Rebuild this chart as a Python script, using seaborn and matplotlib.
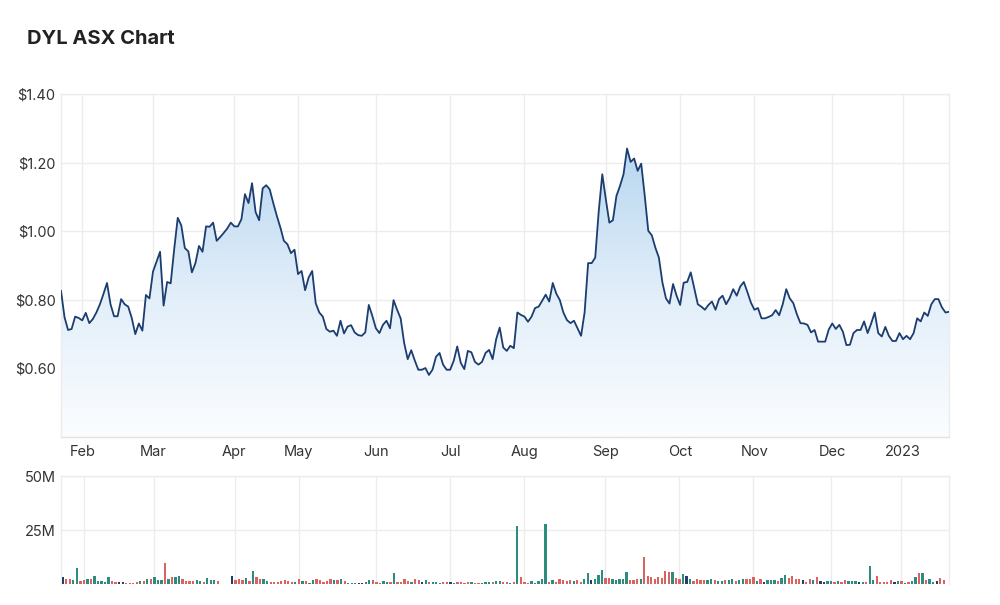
import numpy as np
import pandas as pd
import matplotlib
matplotlib.use("Agg")
import matplotlib.pyplot as plt
import seaborn as sns
from matplotlib.patches import Polygon
from matplotlib.colors import LinearSegmentedColormap

# ASX trading days, 21 Jan 2022 - 20 Jan 2023
asx_holidays = ['2022-01-26', '2022-04-15', '2022-04-18', '2022-04-25', '2022-06-13',
                '2022-09-22', '2022-12-26', '2022-12-27', '2023-01-02']
dates = pd.bdate_range('2022-01-21', '2023-01-20', freq='C', holidays=asx_holidays)

# closing price ($)
close = [
    0.826, 0.749, 0.712, 0.715, 0.751, 0.747, 0.740, 0.762, 0.732, 0.744,
    0.763, 0.787, 0.817, 0.849, 0.787, 0.752, 0.752, 0.802, 0.787, 0.780,
    0.747, 0.700, 0.731, 0.710, 0.814, 0.804, 0.882, 0.911, 0.940, 0.783,
    0.852, 0.848, 0.948, 1.039, 1.017, 0.951, 0.941, 0.880, 0.907, 0.957,
    0.940, 1.014, 1.013, 1.025, 0.972, 0.983, 0.995, 1.008, 1.025, 1.014,
    1.014, 1.035, 1.108, 1.082, 1.140, 1.056, 1.032, 1.125, 1.134, 1.122,
    1.082, 1.045, 1.011, 0.972, 0.962, 0.936, 0.946, 0.875, 0.884, 0.828,
    0.865, 0.884, 0.790, 0.763, 0.751, 0.715, 0.707, 0.710, 0.695, 0.739,
    0.702, 0.722, 0.726, 0.705, 0.697, 0.695, 0.705, 0.785, 0.753, 0.717,
    0.703, 0.727, 0.739, 0.717, 0.799, 0.771, 0.746, 0.674, 0.627, 0.653,
    0.623, 0.596, 0.596, 0.601, 0.581, 0.596, 0.634, 0.645, 0.611, 0.596,
    0.596, 0.622, 0.664, 0.616, 0.598, 0.651, 0.647, 0.619, 0.611, 0.619,
    0.645, 0.654, 0.627, 0.685, 0.719, 0.661, 0.651, 0.666, 0.659, 0.763,
    0.756, 0.751, 0.736, 0.751, 0.776, 0.780, 0.797, 0.815, 0.795, 0.849,
    0.818, 0.799, 0.763, 0.741, 0.732, 0.739, 0.717, 0.695, 0.763, 0.907,
    0.907, 0.923, 1.059, 1.166, 1.093, 1.025, 1.032, 1.103, 1.132, 1.166,
    1.241, 1.202, 1.212, 1.176, 1.197, 1.103, 1.001, 0.988, 0.952, 0.923,
    0.850, 0.804, 0.789, 0.846, 0.812, 0.785, 0.850, 0.852, 0.880, 0.833,
    0.787, 0.780, 0.771, 0.785, 0.795, 0.771, 0.802, 0.812, 0.787, 0.805,
    0.831, 0.812, 0.839, 0.852, 0.823, 0.792, 0.771, 0.776, 0.746, 0.746,
    0.750, 0.755, 0.770, 0.755, 0.787, 0.831, 0.804, 0.790, 0.758, 0.732,
    0.731, 0.727, 0.705, 0.712, 0.678, 0.678, 0.678, 0.713, 0.731, 0.715,
    0.727, 0.707, 0.668, 0.669, 0.703, 0.712, 0.712, 0.737, 0.703, 0.731,
    0.763, 0.703, 0.693, 0.721, 0.695, 0.680, 0.680, 0.703, 0.685, 0.695,
    0.685, 0.703, 0.746, 0.737, 0.763, 0.753, 0.787, 0.802, 0.802, 0.778,
    0.763, 0.765,
]

# daily volume (millions of shares)
volume_m = [
    3.1, 2.3, 2.3, 2.0, 7.4, 1.6, 2.0, 2.3, 2.5, 3.9,
    1.2, 1.6, 1.1, 3.4, 1.6, 1.1, 0.9, 0.9, 0.5, 0.5,
    0.6, 0.9, 1.4, 1.2, 2.5, 2.2, 3.4, 1.7, 2.0, 9.6,
    2.5, 3.1, 3.1, 3.9, 2.3, 1.6, 1.6, 1.6, 2.0, 1.6,
    1.1, 2.9, 1.9, 2.0, 1.6, 0.1, 0.1, 0.1, 3.9, 1.7,
    2.5, 2.0, 2.8, 1.6, 5.9, 3.4, 2.5, 2.3, 1.4, 0.9,
    0.9, 0.9, 1.2, 1.9, 1.2, 0.9, 1.1, 2.3, 1.6, 1.6,
    0.6, 2.0, 2.3, 2.0, 1.1, 1.6, 2.3, 2.0, 2.0, 2.5,
    1.4, 0.5, 0.5, 0.5, 0.5, 0.5, 0.9, 2.0, 1.7, 1.1,
    0.6, 1.4, 0.9, 1.1, 5.0, 1.1, 1.1, 2.5, 1.6, 1.1,
    2.2, 1.9, 0.8, 2.0, 1.1, 1.1, 1.1, 0.5, 1.1, 1.1,
    0.9, 0.5, 0.9, 0.9, 0.5, 0.9, 0.9, 0.5, 0.5, 0.5,
    0.9, 0.9, 0.9, 1.4, 1.6, 0.9, 0.9, 0.5, 0.9, 26.7,
    3.1, 0.9, 0.5, 1.6, 0.5, 1.6, 2.5, 27.6, 0.9, 2.0,
    0.9, 2.5, 2.0, 1.6, 2.0, 1.6, 2.0, 0.9, 2.5, 5.0,
    2.0, 2.5, 4.0, 6.5, 2.9, 2.9, 2.5, 2.0, 2.5, 2.5,
    5.4, 2.0, 2.0, 2.5, 2.5, 12.6, 3.9, 3.1, 2.5, 3.4,
    2.9, 6.0, 5.4, 5.4, 2.9, 2.5, 4.5, 3.6, 2.5, 1.6,
    2.5, 2.0, 2.0, 2.0, 2.5, 2.0, 1.6, 1.6, 2.0, 2.0,
    2.5, 1.6, 2.0, 2.5, 2.5, 2.5, 3.4, 1.6, 2.5, 0.9,
    2.0, 2.0, 2.0, 1.6, 2.9, 4.0, 2.9, 3.6, 2.5, 2.5,
    2.0, 0.9, 2.5, 2.0, 3.1, 1.6, 0.9, 1.6, 1.6, 0.9,
    1.6, 0.9, 2.0, 1.6, 1.6, 1.6, 0.9, 0.9, 0.9, 8.5,
    2.0, 3.6, 0.9, 0.9, 0.9, 2.0, 0.9, 1.6, 1.6, 0.5,
    0.9, 1.6, 3.4, 5.0, 5.0, 2.0, 2.5, 0.9, 1.6, 2.9,
    2.0, 0.2,
]

# bar colour code per day: g = up, r = down, n = unchanged
direction = list(
    "nrrggrrgrg" "ggggrrnnrr" "rrgrgrgggr" "grggrrrrgg" "rgggrnnnnr"
    "rrgrgrrggr" "rrrrrrgrgr" "ggrrrrrgrg" "rgggnnggrr" "rggrgrrrrg"
    "rrngrgggrr" "ngrrrrgrrg" "ggrggrrgrg" "rrrgggggrg" "rrrrrgrrgg"
    "ngggrrgggg" "grrrgrrrrr" "rrrgrrgngr" "rrrggrggrg" "grggrrrgrn"
    "gggrggrrrr" "nrrgrnnggr" "grrgggngrg" "grrrrrngrg" "rggrgrggnr"
    "rg"
)

df = pd.DataFrame({'date': dates, 'close': close, 'volume': volume_m, 'dir': direction})
df['pos'] = np.arange(len(df))

# first trading day of each month -> gridlines / labels
month_start = df.groupby(df['date'].dt.to_period('M'))['pos'].min().iloc[1:]
month_labels = [str(p.year) if p.month == 1 else p.strftime('%b') for p in month_start.index]

grid_c = '#ececec'
text_c = '#333333'
line_c = '#1b3d6f'
bar_pal = {'g': '#1e9a8a', 'r': '#ef4f4a', 'n': '#1f3a70'}

plt.rcParams['font.family'] = ['Inter', 'DejaVu Sans']

fig = plt.figure(figsize=(10, 6.05), dpi=100)
ax = fig.add_axes([0.061, 1 - 437 / 605, 0.888, 343 / 605])
axv = fig.add_axes([0.061, 1 - 584 / 605, 0.888, 108 / 605])

x_lo, x_hi = 0, len(df) - 1
y_lo, y_hi = 0.40, 1.40

# gradient area under the price line
poly = np.vstack([[x_lo, y_lo], df[['pos', 'close']].to_numpy(), [x_hi, y_lo]])
clip = Polygon(poly, closed=True, facecolor='none', edgecolor='none')
ax.add_patch(clip)
cmap = LinearSegmentedColormap.from_list('area', ['#fbfdff', '#e1eef9', '#b8d6f0'])
grad = np.linspace(0, 1, 256).reshape(-1, 1)
im = ax.imshow(grad, extent=[x_lo, x_hi, y_lo, 1.25], origin='lower', aspect='auto',
               cmap=cmap, zorder=1)
im.set_clip_path(clip)

sns.lineplot(data=df, x='pos', y='close', ax=ax, color=line_c, linewidth=1.3, zorder=3)

ax.set_xlim(x_lo, x_hi)
ax.set_ylim(y_lo, y_hi)
ax.set_yticks([0.60, 0.80, 1.00, 1.20, 1.40])
ax.set_yticklabels([f'${v:.2f}' for v in [0.60, 0.80, 1.00, 1.20, 1.40]])
ax.set_xticks(month_start.values)
ax.set_xticklabels(month_labels)
ax.set_xlabel('')
ax.set_ylabel('')

# volume bars
sns.barplot(data=df, x='pos', y='volume', hue='dir', palette=bar_pal, native_scale=True,
            width=0.66, legend=False, ax=axv, linewidth=0, zorder=3)
axv.set_xlim(x_lo - 0.5, x_hi + 0.5)
axv.set_ylim(0, 50)
axv.set_yticks([25, 50])
axv.set_yticklabels(['25M', '50M'])
axv.set_xticks(month_start.values)
axv.set_xticklabels([])
axv.set_xlabel('')
axv.set_ylabel('')

for a in (ax, axv):
    a.set_facecolor('white')
    a.grid(True, color=grid_c, linewidth=1, zorder=0)
    a.set_axisbelow(True)
    a.tick_params(length=0, labelsize=10.5, labelcolor=text_c, pad=4)
    for s in a.spines.values():
        s.set_color(grid_c)
        s.set_linewidth(1)
axv.spines['bottom'].set_visible(False)
ax.spines['bottom'].set_color('#e2e2e2')
ax.tick_params(axis='x', pad=6)

fig.text(0.027, 1 - 39 / 605, 'DYL ASX Chart', fontsize=14.5, fontweight='bold',
         color='#222222', va='center', ha='left')

fig.savefig('out.png', dpi=100, facecolor='white')
